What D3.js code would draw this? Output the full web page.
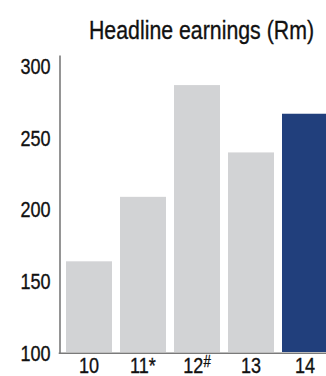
<!DOCTYPE html>
<html>
<head>
<meta charset="utf-8">
<script src="https://cdn.jsdelivr.net/npm/d3@7"></script>
<style>
  html, body { margin: 0; padding: 0; background: #fff; }
  svg { display: block; }
  text { font-family: "Liberation Sans", Arial, sans-serif; fill: #111; stroke: #111; stroke-width: 0.35px; }
</style>
</head>
<body>
<svg id="chart" width="326" height="376"></svg>
<script>
// Headline earnings by financial year, Rm
const years = ["10", "11", "12", "13", "14"];
const yearMarks = ["", "*", "#", "", ""];
const earnings = [164, 209, 287, 240, 267];
const highlight = [false, false, false, false, true];
const yTicks = [100, 150, 200, 250, 300];
const title = "Headline earnings (Rm)";

// Horizontal squeeze giving a narrow face
const NARROW = 0.82;
const FONT = '"Liberation Sans", Arial, sans-serif';

const svg = d3.select("#chart");
const W = 326;

const axisX = 59.5;
const y = d3.scaleLinear().domain([100, 308]).range([353, 55]);
const x = d3.scaleBand()
  .domain(years)
  .range([62, 332])
  .paddingInner(8 / 54)
  .paddingOuter(4 / 54);

// Bars
svg.append("g")
  .selectAll("rect")
  .data(years)
  .join("rect")
  .attr("x", d => x(d))
  .attr("y", (d, i) => y(earnings[i]))
  .attr("width", x.bandwidth())
  .attr("height", (d, i) => y(100) - y(earnings[i]) - 1)
  .attr("fill", (d, i) => highlight[i] ? "#213f7c" : "#d2d3d5");

// Left axis
const pad = 9;
const gy = svg.append("g")
  .attr("transform", `translate(${axisX},0)`)
  .call(d3.axisLeft(y).tickValues(yTicks).tickSize(0).tickSizeOuter(0).tickPadding(pad));
gy.select(".domain").attr("stroke", "#7a7a7a").attr("stroke-width", 1.6);
gy.selectAll("text")
  .attr("x", -pad / NARROW)
  .attr("transform", `scale(${NARROW},1)`)
  .style("font-size", "22px")
  .style("font-family", FONT)
  .attr("fill", "#111");

// Baseline
svg.append("line")
  .attr("x1", axisX - 0.8).attr("x2", W)
  .attr("y1", y(100) + 0.3).attr("y2", y(100) + 0.3)
  .attr("stroke", "#7a7a7a").attr("stroke-width", 1.6);

// Category labels
const gx = svg.append("g")
  .attr("transform", `translate(0,${y(100)})`)
  .call(d3.axisBottom(x).tickSize(0).tickPadding(0));
gx.select(".domain").remove();
gx.selectAll("text").each(function (d, i) {
  const t = d3.select(this)
    .text(null)
    .attr("y", 19.5)
    .attr("dy", 0)
    .attr("transform", `scale(${NARROW},1)`)
    .style("font-size", "22px")
    .style("font-family", FONT)
    .attr("fill", "#111");
  t.append("tspan").text(d);
  const m = yearMarks[i];
  if (m === "#") {
    t.append("tspan").text(m).attr("dy", -6).style("font-size", "16px");
  } else if (m) {
    t.append("tspan").text(m);
  }
});

// Title
svg.append("text")
  .attr("transform", `translate(201.5,39.3) scale(${NARROW},1)`)
  .attr("text-anchor", "middle")
  .style("font-size", "26px")
  .text(title);
</script>
</body>
</html>
